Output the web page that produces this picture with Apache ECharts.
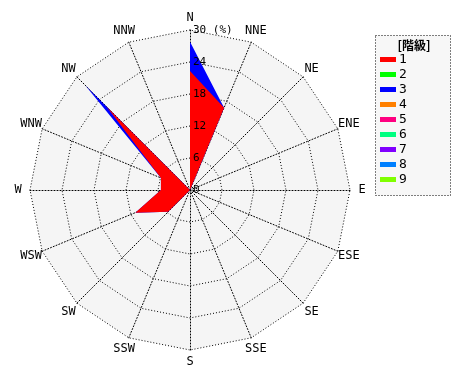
<!DOCTYPE html>
<html><head><meta charset="utf-8">
<script src="https://cdn.jsdelivr.net/npm/echarts@6/dist/echarts.min.js"></script>
<style>html,body{margin:0;padding:0;background:#fff}#c{width:470px;height:380px}</style>
</head><body><div id="c"></div>
<script>
// Directions, clockwise from N
const directions = ['N','NNE','NE','ENE','E','ESE','SE','SSE','S','SSW','SW','WSW','W','WNW','NW','NNW'];
// Class (階級) names and colors
const classNames = ['1','2','3','4','5','6','7','8','9'];
const classColors = ['#ff0000','#00ff00','#0000ff','#ff8000','#ff0080','#00ff80','#8000ff','#0080ff','#80ff00'];
// Frequency (%) per direction for each class (clockwise from N)
const class1 = [22.3,16.7,0,0,0,0,0,0,0,0,5.8,11.1,5.45,5.9,22.1,0];
const class3 = [5.5,0,0,0,0,0,0,0,0,0,0,0,0,0,5.7,0];
const classData = {'1': class1, '3': class3};
// Radial axis
const radialMax = 30;
const radialStep = 6;

const FONT = 'DejaVu Sans Mono';
// ECharts radar places indicators counter-clockwise: reorder to clockwise
const ccwIndex = directions.map((d, i) => (16 - i) % 16);
const toCCW = arr => ccwIndex.map(i => arr[i]);

// cumulative stacking in class order
const cum = [];
let running = directions.map(() => 0);
classNames.forEach(n => {
  const v = classData[n];
  if (v) running = running.map((r, i) => r + v[i]);
  cum.push(running.slice());
});

const seriesData = [];
for (let k = classNames.length - 1; k >= 0; k--) {
  const n = classNames[k];
  const has = !!classData[n];
  seriesData.push({
    name: n,
    value: toCCW(cum[k]),
    symbol: 'none',
    itemStyle: {color: classColors[k]},
    lineStyle: {width: 0, opacity: 0},
    areaStyle: {color: classColors[k], opacity: has ? 1 : 0}
  });
}

const chart = echarts.init(document.getElementById('c'), null, {renderer: 'canvas'});
chart.setOption({
  animation: false,
  backgroundColor: '#ffffff',
  radar: {
    center: [190, 190],
    radius: 160,
    startAngle: 90,
    shape: 'polygon',
    splitNumber: 5,
    indicator: toCCW(directions).map(d => ({name: d, min: 0, max: radialMax})),
    nameGap: 12,
    axisName: {color: '#000', fontFamily: FONT, fontSize: 12, align: 'center', verticalAlign: 'middle'},
    axisLine: {lineStyle: {color: '#000', type: [1, 2], width: 1}},
    splitLine: {lineStyle: {color: '#000', type: [1, 2], width: 1}},
    splitArea: {show: true, areaStyle: {color: ['#f5f5f5']}}
  },
  polar: {center: [190, 190], radius: 160},
  angleAxis: {type: 'value', min: 0, max: 360, startAngle: 90, show: false},
  radiusAxis: {
    type: 'value', min: 0, max: radialMax, interval: radialStep, z: 10,
    axisLine: {show: false}, axisTick: {show: false}, splitLine: {show: false},
    axisLabel: {
      color: '#000', fontFamily: FONT, fontSize: 11, align: 'left', margin: -3,
      verticalAlign: 'middle', padding: [0, 0, 5, 0],
      formatter: v => v === radialMax ? v + ' (%)' : String(v)
    }
  },
  legend: {
    orient: 'vertical', left: 376, top: 36,
    data: classNames.map((n, i) => ({name: n, itemStyle: {color: classColors[i]}})),
    icon: 'rect', itemWidth: 16, itemHeight: 5, itemGap: 2,
    padding: [17, 40, 8, 4],
    selectedMode: false,
    textStyle: {color: '#000', fontFamily: FONT, fontSize: 13, padding: [0, 0, 0, -2]}
  },
  graphic: [
    {type: 'rect', z: 0, shape: {x: 375.5, y: 35.5, width: 75, height: 160},
     style: {fill: '#f7f7f7', stroke: '#000', lineWidth: 1, lineDash: [1, 2]}},
    {type: 'text', z: 5, style: {x: 414, y: 45, text: '[階級]', fill: '#000',
     font: 'bold 12px "Noto Sans CJK JP"', align: 'center', verticalAlign: 'middle'}}
  ],
  series: [{type: 'radar', silent: true, data: seriesData}]
});
</script></body></html>
